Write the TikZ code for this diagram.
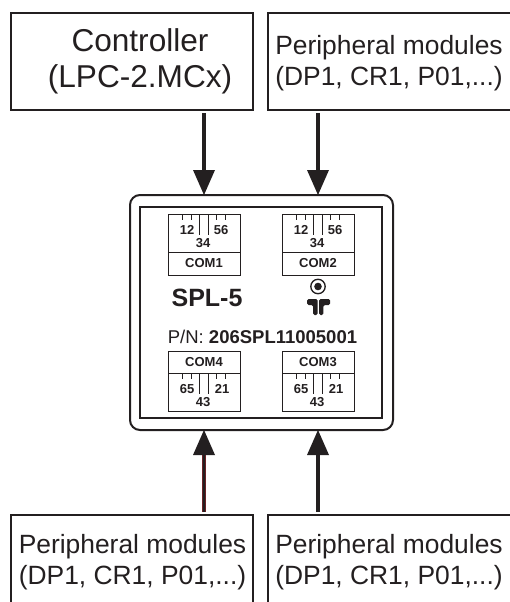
\documentclass[tikz,border=0pt]{standalone}
\usepackage{fontspec}
\setmainfont{Liberation Sans}
\definecolor{ink}{HTML}{231F20}
\definecolor{redink}{HTML}{6A2226}
\tikzset{
  x=1pt,y=-1pt,
  modbox/.style={draw=ink,line width=1.4pt},
  bigtxt/.style={anchor=base,inner sep=0,text=ink,font=\fontsize{31.6}{32}\selectfont},
  modtxt/.style={anchor=base,inner sep=0,text=ink,font=\fontsize{26.4}{26}\selectfont},
  smalltxt/.style={anchor=mid,inner sep=0,text=ink,font=\fontsize{13}{13}\selectfont\bfseries},
  combox/.style={draw=ink,line width=1pt},
  tick/.style={draw=ink,line width=.9pt},
  flow/.style={draw=ink,line width=3.6pt},
  headfill/.style={fill=ink,draw=none},
}
\newcommand{\comtop}[3]{% x-left, y-top, name
  \draw[combox] (#1,#2) rectangle (#1+72,#2+61);
  \draw[combox] (#1,#2+38) -- (#1+72,#2+38);
  \foreach \dx in {14,23,48,57} \draw[tick] (#1+\dx,#2) -- (#1+\dx,#2+6);
  \foreach \dx in {31,40} \draw[tick] (#1+\dx,#2) -- (#1+\dx,#2+21);
  \node[smalltxt] at (#1+19,#2+17.5) {12};
  \node[smalltxt] at (#1+53,#2+17.5) {56};
  \node[smalltxt] at (#1+35,#2+30.5) {34};
  \node[smalltxt] at (#1+36,#2+50.5) {#3};
}
\newcommand{\combot}[3]{%
  \draw[combox] (#1,#2) rectangle (#1+72,#2+60);
  \draw[combox] (#1,#2+22) -- (#1+72,#2+22);
  \foreach \dx in {14,23,48,57} \draw[tick] (#1+\dx,#2+22) -- (#1+\dx,#2+28);
  \foreach \dx in {31,40} \draw[tick] (#1+\dx,#2+22) -- (#1+\dx,#2+43);
  \node[smalltxt] at (#1+19,#2+39.5) {65};
  \node[smalltxt] at (#1+54,#2+39.5) {21};
  \node[smalltxt] at (#1+35,#2+52.5) {43};
  \node[smalltxt] at (#1+36,#2+13) {#3};
}
\begin{document}
\begin{tikzpicture}
\useasboundingbox (0,0) rectangle (509,602);
% module boxes
\draw[modbox] (11,13) rectangle (253,110);
\draw[modbox] (511,13) -- (268,13) -- (268,110) -- (511,110);
\draw[modbox] (11,604) -- (11,515) -- (253,515) -- (253,604);
\draw[modbox] (511,515) -- (268,515) -- (268,604);
% texts
\node[bigtxt] at (140,52) {Controller};
\node[bigtxt] at (140,88) {(LPC-2.MCx)};
\node[modtxt] at (389,55) {Peripheral modules};
\node[modtxt] at (389,85) {(DP1, CR1, P01,...)};
\node[modtxt] at (132.5,553) {Peripheral modules};
\node[modtxt] at (132.5,584) {(DP1, CR1, P01,...)};
\node[modtxt] at (389,553) {Peripheral modules};
\node[modtxt] at (389,584) {(DP1, CR1, P01,...)};
% arrows
\draw[flow] (204,113) -- (204,172);
\fill[headfill] (204,195) -- (193,170) -- (215,170) -- cycle;
\draw[flow] (318,113) -- (318,172);
\fill[headfill] (318,195) -- (307,170) -- (329,170) -- cycle;
\draw[flow,draw=redink] (204,512) -- (204,452);
\draw[draw=ink,line width=2.2pt] (204,512) -- (204,452);
\fill[headfill] (204,430) -- (193,455) -- (215,455) -- cycle;
\draw[flow] (318,512) -- (318,452);
\fill[headfill] (318,430) -- (307,455) -- (329,455) -- cycle;
% device
\draw[draw=ink,line width=2pt,fill=white,rounded corners=10pt] (130,195) rectangle (393,430);
\draw[draw=ink,line width=2pt] (140,207) rectangle (382,418);
\comtop{168}{214}{COM1}
\comtop{282}{214}{COM2}
\combot{168}{351}{COM4}
\combot{282}{351}{COM3}
\node[anchor=base,inner sep=0,text=ink,font=\fontsize{25}{25}\selectfont\bfseries] at (207,306) {SPL-5};
\node[anchor=base,inner sep=0,text=ink,font=\fontsize{18.5}{18}\selectfont] at (262.5,343.5) {P/N: \textbf{206SPL11005001}};
% logo
\draw[ink,line width=1.3pt] (318,286.5) circle (7.2);
\fill[ink] (318,286.5) circle (3.8);
\fill[ink,rounded corners=1.5pt] (307,299) -- (317.6,299) -- (317.6,315) -- (313.2,315) -- (313.2,305) -- (307,305) -- cycle;
\fill[ink,rounded corners=1.5pt] (330,299) -- (319,299) -- (319,315) -- (323.4,315) -- (323.4,305) -- (330,305) -- cycle;
\end{tikzpicture}
\end{document}
